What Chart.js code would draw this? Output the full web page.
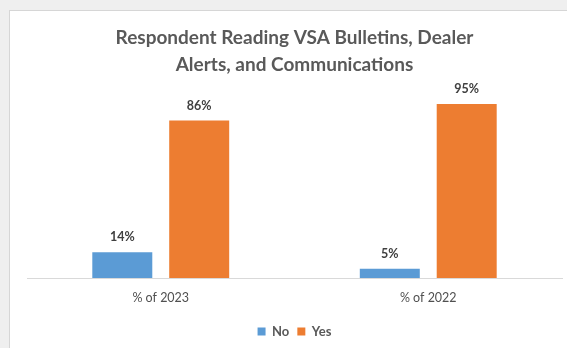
<!DOCTYPE html>
<html>
<head>
<meta charset="utf-8">
<script src="https://cdn.jsdelivr.net/npm/chart.js@4.4.1/dist/chart.umd.min.js"></script>
<style>
  html, body { margin: 0; padding: 0; }
  body { width: 567px; height: 348px; background: #efefef; position: relative; overflow: hidden; }
  #card { position: absolute; left: 9px; top: 10px; width: 558px; height: 338px; background: #ffffff;
          border-left: 1px solid #d6d6d6; border-top: 1px solid #d6d6d6; box-sizing: border-box; }
  #wrap { position: absolute; left: 0; top: 0; width: 557px; height: 337px; }
</style>
</head>
<body>
<div id="card"><div id="wrap"><canvas id="c"></canvas></div></div>
<script>
const categories = ["% of 2023", "% of 2022"];
const noValues = [14, 5];
const yesValues = [86, 95];
const seriesNames = ["No", "Yes"];
const titleLines = ["Respondent Reading VSA Bulletins, Dealer", "Alerts, and Communications"];

const FONT = "Lato, 'Open Sans', sans-serif";

const labelPlugin = {
  id: 'barLabels',
  afterDatasetsDraw(chart) {
    const ctx = chart.ctx;
    ctx.save();
    ctx.font = "bold 12.5px " + FONT;
    ctx.fillStyle = "#404040";
    ctx.textAlign = "center";
    ctx.textBaseline = "middle";
    chart.data.datasets.forEach((ds, i) => {
      const meta = chart.getDatasetMeta(i);
      meta.data.forEach((bar, j) => {
        ctx.fillText(ds.data[j] + "%", bar.x, bar.y - 15);
      });
    });
    ctx.restore();
  }
};

new Chart(document.getElementById('c'), {
  type: 'bar',
  data: {
    labels: categories,
    datasets: [
      { label: seriesNames[0], data: noValues, backgroundColor: '#5B9BD5', barPercentage: 0.78, categoryPercentage: 0.575 },
      { label: seriesNames[1], data: yesValues, backgroundColor: '#ED7D31', barPercentage: 0.78, categoryPercentage: 0.575 }
    ]
  },
  options: {
    responsive: true,
    maintainAspectRatio: false,
    animation: false,
    layout: { padding: { left: 17, right: 5, top: 0, bottom: 0 } },
    plugins: {
      title: {
        display: true,
        text: titleLines,
        color: '#595959',
        font: { family: FONT, size: 19, weight: 'bold', lineHeight: 1.42 },
        padding: { top: 13, bottom: 17 }
      },
      legend: {
        position: 'bottom',
        labels: {
          color: '#595959',
          font: { family: FONT, size: 13, weight: 'bold' },
          usePointStyle: true,
          pointStyle: 'rect',
          boxWidth: 8,
          boxHeight: 8,
          padding: 8
        }
      },
      tooltip: { enabled: false }
    },
    scales: {
      x: {
        grid: { display: false, drawTicks: false },
        border: { display: true, color: '#d9d9d9', width: 1 },
        ticks: { color: '#505050', font: { family: FONT, size: 12.5 }, padding: 12 }
      },
      y: {
        display: false,
        min: 0,
        max: 100
      }
    }
  },
  plugins: [labelPlugin]
});
</script>
</body>
</html>
